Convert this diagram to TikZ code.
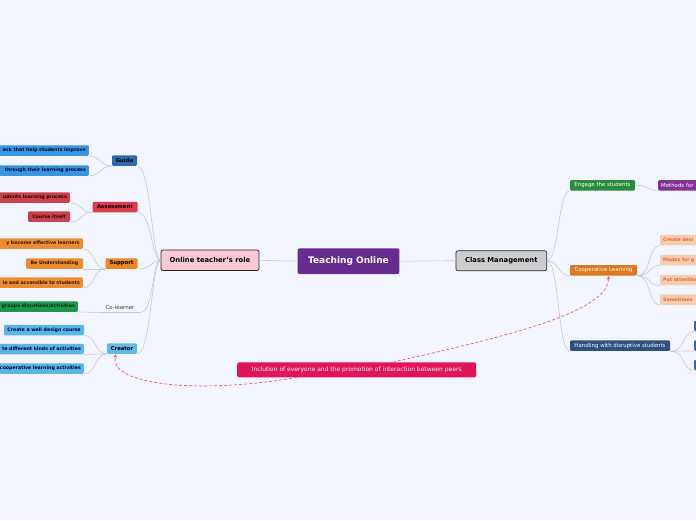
\documentclass[tikz,border=0pt]{standalone}
\usepackage{fontspec}
\setmainfont{DejaVu Sans}
\usetikzlibrary{arrows.meta}
\definecolor{bg}{RGB}{242,245,253}
\definecolor{linec}{RGB}{200,200,208}
\definecolor{purpleTO}{RGB}{104,44,145}
\definecolor{rolepink}{RGB}{250,200,212}
\definecolor{cmgray}{RGB}{205,205,208}
\definecolor{guideblue}{RGB}{45,105,175}
\definecolor{gkblue}{RGB}{55,150,225}
\definecolor{assred}{RGB}{220,60,75}
\definecolor{akred}{RGB}{200,65,75}
\definecolor{suporange}{RGB}{235,135,40}
\definecolor{skorange}{RGB}{235,140,50}
\definecolor{cgreen}{RGB}{30,150,80}
\definecolor{creblue}{RGB}{100,185,230}
\definecolor{crkblue}{RGB}{90,180,230}
\definecolor{enggreen}{RGB}{40,140,60}
\definecolor{methpurple}{RGB}{130,50,150}
\definecolor{coorange}{RGB}{220,120,30}
\definecolor{ckpeach}{RGB}{245,205,175}
\definecolor{cktext}{RGB}{235,100,60}
\definecolor{handblue}{RGB}{50,80,125}
\definecolor{hkblue}{RGB}{60,100,160}
\definecolor{incpink}{RGB}{225,20,90}
\definecolor{dashpink}{RGB}{235,90,160}
\newcommand\myfs[1]{\fontsize{#1}{#1}\selectfont}
\begin{document}
\begin{tikzpicture}[x=1pt,y=-1pt,
  box/.style={rounded corners=1.2pt, inner sep=0pt, minimum height=10.5pt, align=center},
  lk/.style={box, font=\myfs{4.7}\bfseries},
  lone/.style={box, font=\myfs{5.3}\bfseries, text=black},
  rone/.style={box, font=\myfs{5.4}, text=white},
  clipL/.style={anchor=east, text width=150pt, align=right, inner xsep=3pt},
  clipR/.style={anchor=west, text width=150pt, align=left, inner xsep=3pt},
  conn/.style={draw=linec, line width=0.6pt},
  dashc/.style={draw=dashpink, line width=0.7pt, dash pattern=on 3pt off 2pt, -{Stealth[length=4pt,width=3.6pt]}}
]
\fill[bg] (0,0) rectangle (696,520);
\clip (0,0) rectangle (696,520);

% central nodes
\node[box, fill=purpleTO, minimum width=101.6pt, minimum height=25.7pt, rounded corners=2pt, text=white, font=\myfs{9}\bfseries] (to) at (348.5,261.2) {Teaching Online};
\node[box, fill=rolepink, draw=black!85, line width=0.7pt, minimum width=98pt, minimum height=20.5pt, rounded corners=2pt, font=\myfs{6.8}\bfseries] (role) at (210,260.3) {Online teacher's role};
\node[box, fill=cmgray, draw=black!85, line width=0.7pt, minimum width=90.7pt, minimum height=20pt, rounded corners=2pt, font=\myfs{6.8}\bfseries] (cm) at (501.3,260.7) {Class Management};

% left level 1
\node[lone, fill=guideblue, minimum width=25pt] (guide) at (124.5,160.5) {Guide};
\node[lone, fill=assred, minimum width=45pt] (assess) at (115,207) {Assessment};
\node[lone, fill=suporange, minimum width=32pt] (support) at (121.5,263.5) {Support};
\node[box, minimum width=40pt, font=\myfs{5.5}, text=black!75] (colearner) at (120,307) {Co-learner};
\node[lone, fill=creblue, minimum width=30pt] (creator) at (122,348.5) {Creator};

% left level 2
\node[lk, clipL, fill=gkblue, text=black!80!blue] (gk1) at (89,150.5) {ack that help students improve};
\node[lk, clipL, fill=gkblue, text=black!80!blue] (gk2) at (89,170.5) {through their learning process};
\node[lk, clipL, fill=akred, text=black!80!red] (ak1) at (70,197.5) {udents learning process};
\node[lk, fill=akred, text=black!80!red, minimum width=42pt] (ak2) at (49,216.5) {Course itself};
\node[lk, clipL, fill=skorange, text=black!80!orange] (sk1) at (83,243.5) {y become effective learners};
\node[lk, fill=skorange, text=black!80!orange, minimum width=57pt] (sk2) at (54.5,263.5) {Be Understanding};
\node[lk, clipL, fill=skorange, text=black!80!orange] (sk3) at (83,282.5) {le and accessible to students};
\node[lk, clipL, fill=cgreen, text=black!80!green] (colk) at (78,306.5) {groups discutions/activities};
\node[lk, fill=crkblue, text=black!80!blue, minimum width=80pt] (crk1) at (44,330) {Create a well design course};
\node[lk, clipL, fill=crkblue, text=black!80!blue] (crk2) at (84,349) {te different kinds of activities};
\node[lk, clipL, fill=crkblue, text=black!80!blue] (crk3) at (84,368.5) {cooperative learning activities};

% right level 1
\node[rone, fill=enggreen, minimum width=65pt] (engage) at (602.5,185.3) {Engage the students};
\node[rone, fill=coorange, minimum width=67pt] (coop) at (603.5,270.3) {Cooperative Learning};
\node[rone, fill=handblue, minimum width=100pt] (hand) at (620,345.7) {Handling with disruptive students};

% right level 2
\node[rone, clipR, fill=methpurple] (meth) at (658,185.3) {Methods for};
\node[lk, clipR, fill=ckpeach, text=cktext] (ck1) at (660,240) {Create desi};
\node[lk, clipR, fill=ckpeach, text=cktext] (ck2) at (660,260) {Modes for g};
\node[lk, clipR, fill=ckpeach, text=cktext] (ck3) at (660,280) {Put attention};
\node[lk, clipR, fill=ckpeach, text=cktext] (ck4) at (660,299.5) {Sometimes};
\node[box, anchor=west, fill=hkblue, minimum width=40pt] (hk1) at (694,326) {};
\node[box, anchor=west, fill=hkblue, minimum width=40pt] (hk2) at (694,345.5) {};
\node[box, anchor=west, fill=hkblue, minimum width=40pt] (hk3) at (694,365) {};

% bottom label
\node[box, fill=incpink, minimum width=239pt, minimum height=15pt, rounded corners=1.5pt, text=white!92!pink, font=\myfs{6}] (inc) at (356.7,369.8) {Inclution of everyone and the promotion of interaction between peers};

% connectors centre
\draw[conn] (to.west) -- (role.east);
\draw[conn] (to.east) -- (cm.west);

% role to level 1
\foreach \c in {guide,assess,support,colearner,creator}
  \draw[conn] (role.west) .. controls +(-9,0) and +(14,0) .. (\c.south east);

% level 1 to level 2 (left)
\draw[conn] (guide.south west) .. controls +(-12,0) and +(12,0) .. (gk1.south east);
\draw[conn] (guide.south west) .. controls +(-12,0) and +(12,0) .. (gk2.south east);
\draw[conn] (assess.south west) .. controls +(-12,0) and +(12,0) .. (ak1.south east);
\draw[conn] (assess.south west) .. controls +(-12,0) and +(12,0) .. (ak2.south east);
\draw[conn] (support.south west) .. controls +(-12,0) and +(12,0) .. (sk1.south east);
\draw[conn] (support.south west) -- (sk2.south east);
\draw[conn] (support.south west) .. controls +(-12,0) and +(12,0) .. (sk3.south east);
\draw[conn] (colearner.south east) -- (colearner.south west) -- (colk.south east);
\draw[conn] (creator.south west) .. controls +(-12,0) and +(12,0) .. (crk1.south east);
\draw[conn] (creator.south west) -- (crk2.south east);
\draw[conn] (creator.south west) .. controls +(-12,0) and +(12,0) .. (crk3.south east);

% right connectors
\foreach \c in {engage,coop,hand}
  \draw[conn] (cm.east) .. controls +(12,0) and +(-12,0) .. (\c.south west);
\draw[conn] (engage.east) .. controls +(14,0) and +(-10,0) .. (meth.south west);
\foreach \c in {ck1,ck2,ck3,ck4}
  \draw[conn] (coop.south east) .. controls +(14,0) and +(-12,0) .. (\c.south west);
\foreach \c in {hk1,hk2,hk3}
  \draw[conn] (hand.south east) .. controls +(16,0) and +(-12,0) .. (\c.south west);

% dashed relations
\draw[dashc] ([xshift=36pt]inc.north) .. controls +(125,-28) and +(0,35) .. ([xshift=5pt]coop.south);
\draw[dashc] ([xshift=-60pt]inc.south) .. controls +(-107,18) and +(-8,29) .. ([xshift=-6pt]creator.south);
\end{tikzpicture}
\end{document}
